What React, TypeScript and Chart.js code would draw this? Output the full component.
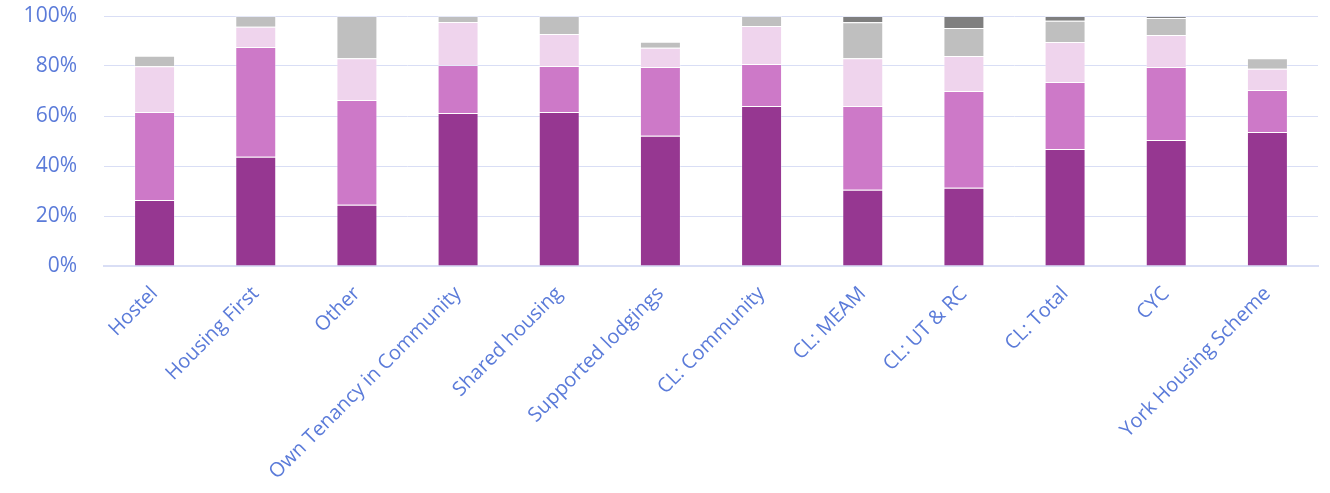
import React, { useEffect, useRef } from "react";
import { Chart, registerables } from "chart.js";

Chart.register(...registerables);

const categories = [
  "Hostel",
  "Housing First",
  "Other",
  "Own Tenancy in Community",
  "Shared housing",
  "Supported lodgings",
  "CL: Community",
  "CL: MEAM",
  "CL: UT & RC",
  "CL: Total",
  "CYC",
  "York Housing Scheme",
];

const series1 = [26.4, 43.7, 24.5, 61.2, 61.6, 52.1, 64.0, 30.5, 31.3, 46.8, 50.4, 53.6];
const series2 = [35.2, 43.9, 41.9, 19.2, 18.4, 27.5, 16.8, 33.5, 38.7, 26.8, 29.2, 16.8];
const series3 = [18.3, 8.1, 16.7, 17.2, 12.8, 7.7, 15.2, 19.1, 14.0, 16.0, 12.8, 8.5];
const series4 = [4.2, 4.3, 16.9, 2.4, 7.2, 2.4, 4.0, 14.4, 11.2, 8.5, 6.8, 4.2];
const series5 = [0, 0, 0, 0, 0, 0, 0, 2.5, 4.8, 1.9, 0.8, 0];

const yTicks = [0, 20, 40, 60, 80, 100];

const seriesNames = ["Series 1", "Series 2", "Series 3", "Series 4", "Series 5"];
const seriesColors = ["#963791", "#cd79c8", "#efd4ed", "#bfbfbf", "#7f7f7f"];

const TEXT = "#5b7bd9";
const GRID = "#d9def5";
const FONT = "'Open Sans', sans-serif";

export default function App() {
  const ref = useRef<HTMLCanvasElement>(null);

  useEffect(() => {
    document.body.style.margin = "0";
    const ctx = ref.current;
    if (!ctx) return;
    const values = [series1, series2, series3, series4, series5];
    const chart = new Chart(ctx, {
      type: "bar",
      data: {
        labels: categories,
        datasets: values.map((d, i) => ({
          label: seriesNames[i],
          data: d,
          backgroundColor: seriesColors[i],
          borderColor: "rgba(255,255,255,0.35)",
          borderWidth: 1,
          barPercentage: 0.405,
          categoryPercentage: 1,
        })),
      },
      options: {
        responsive: false,
        devicePixelRatio: 1,
        animation: false,
        layout: { padding: { top: 16, right: 12, left: 0, bottom: 0 } },
        plugins: {
          legend: { display: false },
          tooltip: { enabled: false },
        },
        scales: {
          x: {
            stacked: true,
            grid: { display: false, drawTicks: false },
            border: { display: true, color: GRID, width: 2 },
            ticks: {
              color: TEXT,
              font: { family: FONT, size: 20 },
              minRotation: 45,
              maxRotation: 45,
              autoSkip: false,
              padding: 16,
            },
            afterFit: (s: any) => {
              s.height = 227;
              s.paddingLeft = 0;
              s.paddingRight = 0;
            },
          },
          y: {
            stacked: true,
            min: 0,
            max: 100,
            afterBuildTicks: (s: any) => {
              s.ticks = yTicks.map((v) => ({ value: v }));
            },
            grid: { color: GRID, lineWidth: 1, drawTicks: false },
            border: { display: false },
            ticks: {
              color: TEXT,
              font: { family: FONT, size: 21 },
              padding: 27,
              callback: (v: any) => v + "%",
            },
            afterFit: (s: any) => {
              s.width = 104;
              s.paddingTop = 0;
              s.paddingBottom = 0;
            },
          },
        },
      },
    });
    return () => chart.destroy();
  }, []);

  return (
    <div style={{ width: 1330, height: 493 }}>
      <canvas ref={ref} width={1330} height={493} />
    </div>
  );
}
